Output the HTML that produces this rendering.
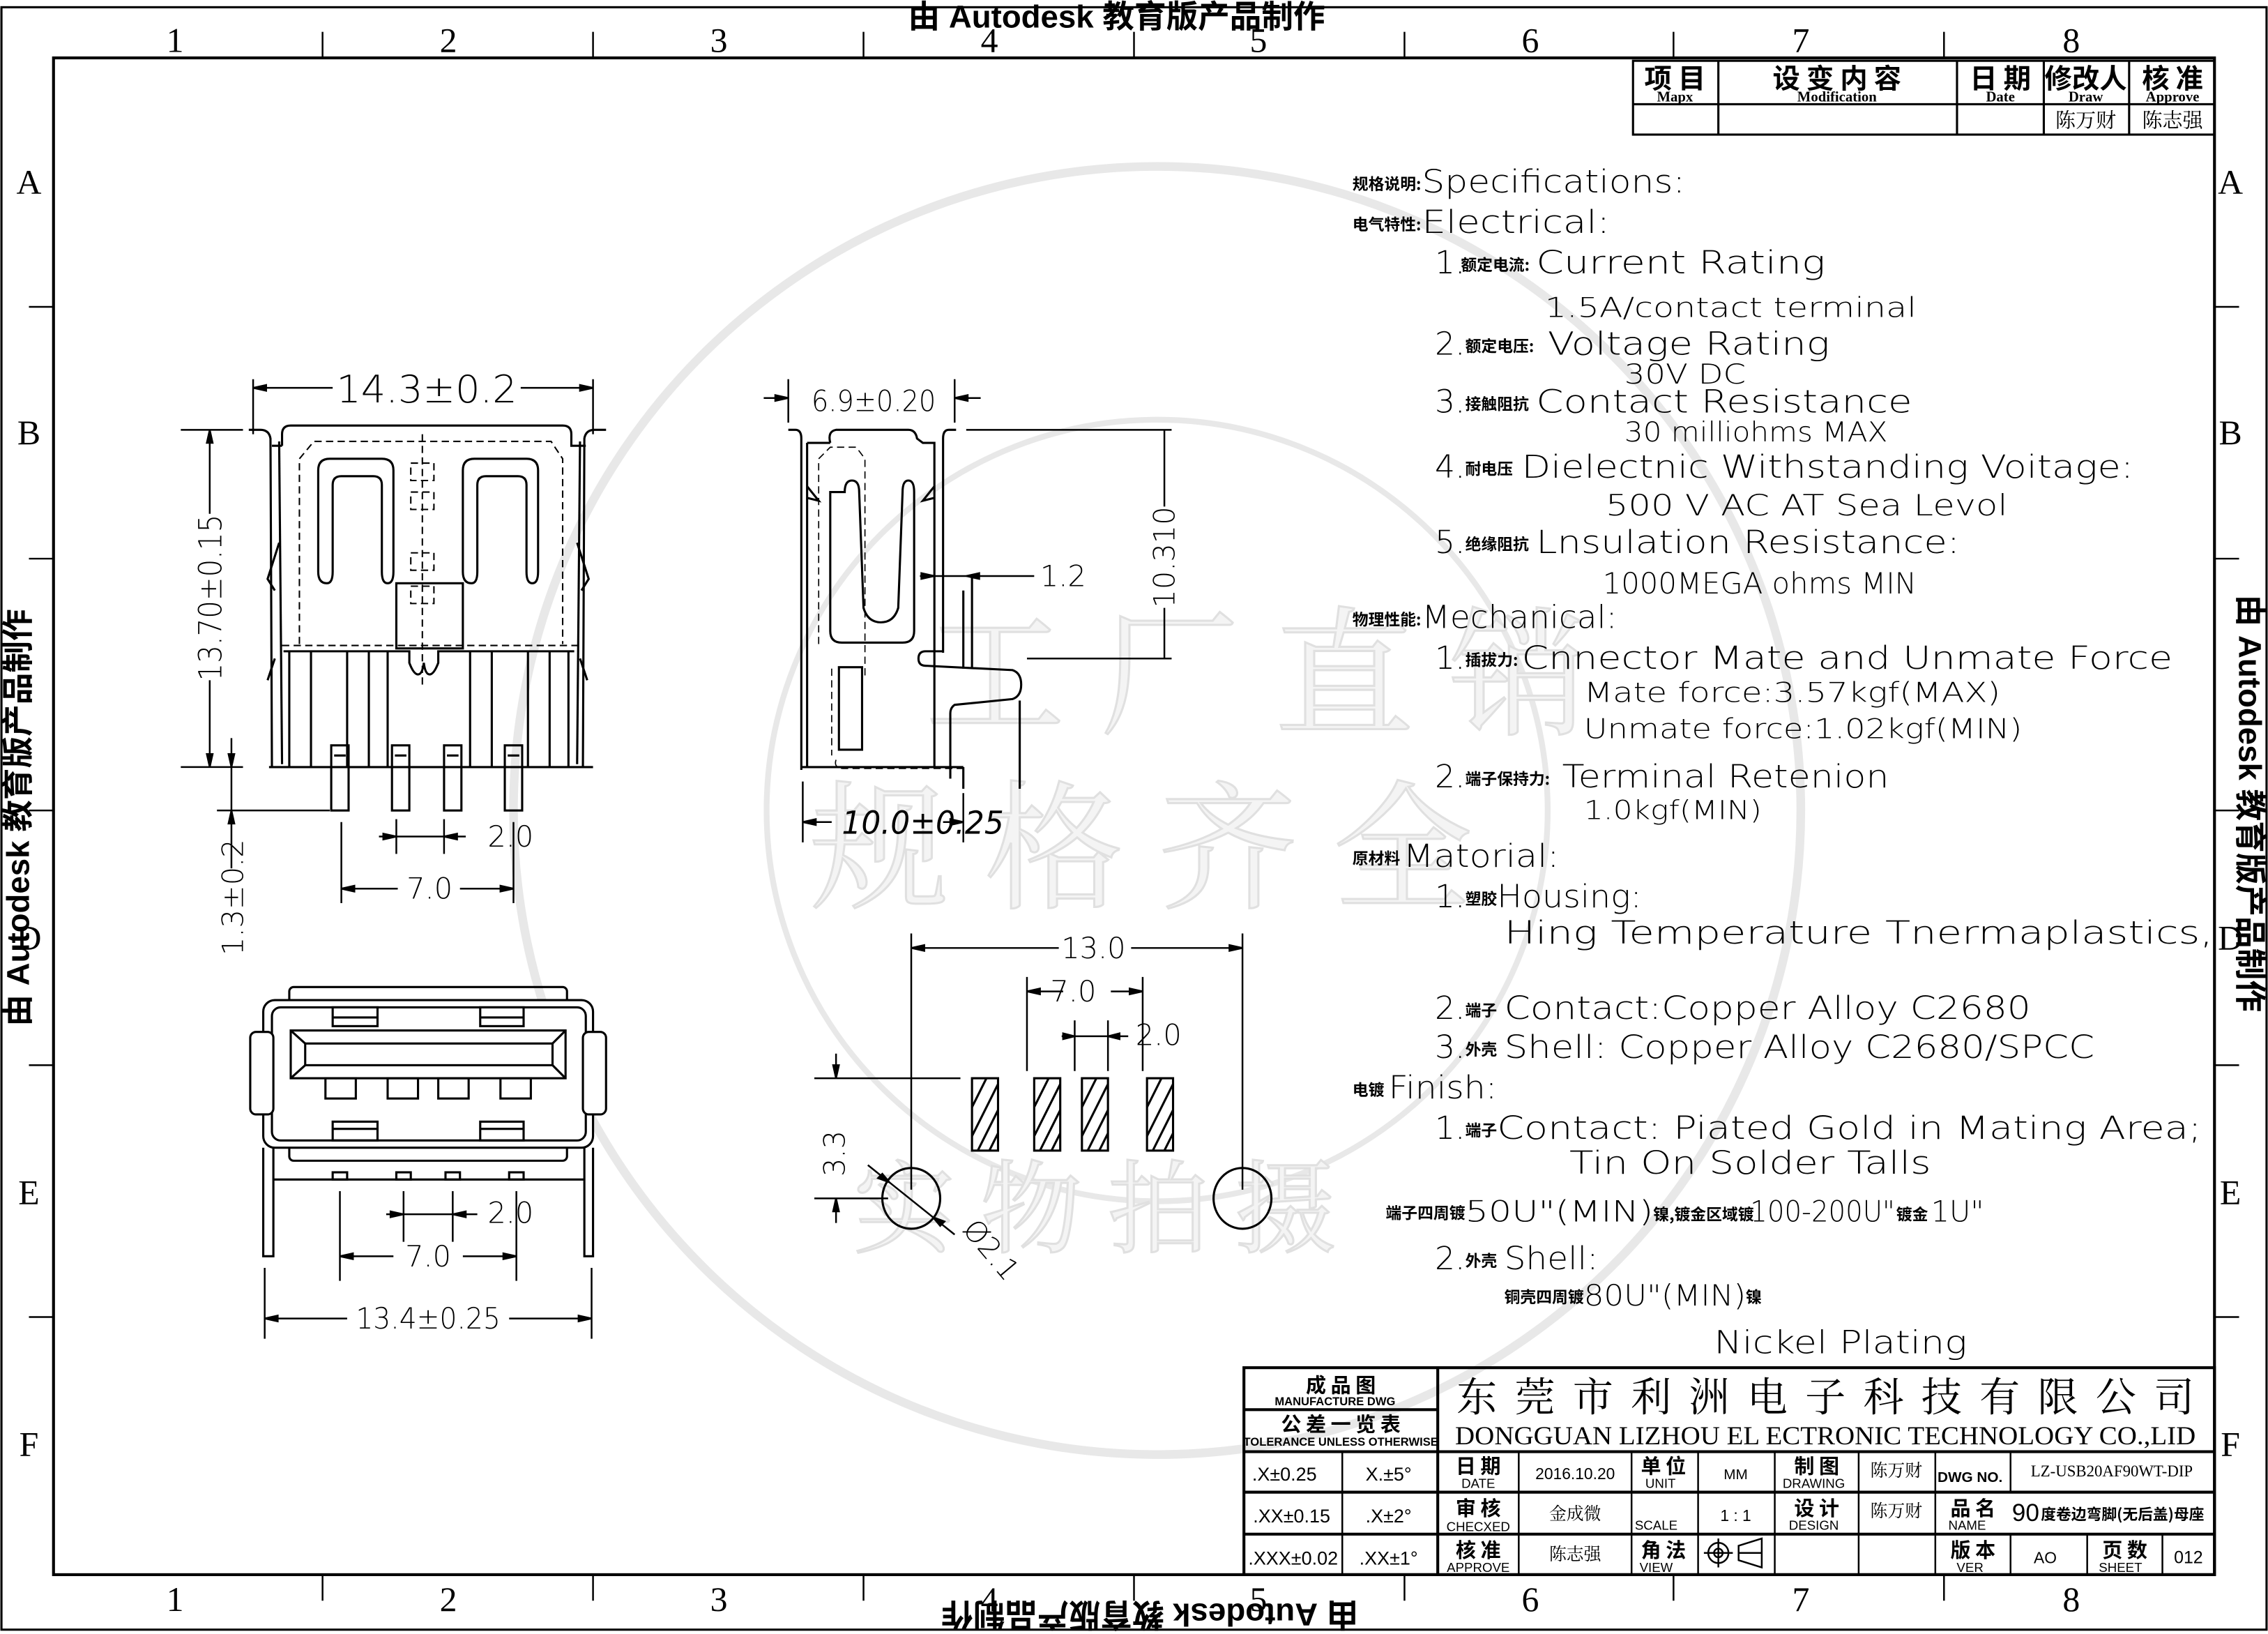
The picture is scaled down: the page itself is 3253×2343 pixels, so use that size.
<!DOCTYPE html>
<html><head><meta charset="utf-8"><style>
html,body{margin:0;padding:0;background:#fff;}
svg{display:block;}
text{font-family:"Liberation Sans","Noto Sans CJK SC",sans-serif;}
.cn{font-family:"Noto Sans CJK SC","WenQuanYi Zen Hei",sans-serif;font-weight:bold;}
.cnl{font-family:"Noto Serif CJK SC","Noto Sans CJK SC",serif;}
.sr{font-family:"Liberation Serif","Noto Serif CJK SC",serif;}
.sp{font-family:"DejaVu Sans","Liberation Sans",sans-serif;font-weight:200;}
</style></head><body>
<svg width="3253" height="2343" viewBox="0 0 1568 1129" preserveAspectRatio="none" xmlns="http://www.w3.org/2000/svg">
<rect width="1568" height="1129" fill="#fff"/>
<!-- watermark -->
<g fill="none" stroke="#e8e8e8" stroke-width="6">
<circle cx="800" cy="560" r="445"/>
<circle cx="800" cy="560" r="270" stroke-width="4"/>
</g>
<g fill="#f4f4f4" stroke="#e0e0e0" stroke-width="1.5">
<text x="640" y="500" class="cnl" font-size="96">工 厂 直 销</text>
<text x="560" y="620" class="cnl" font-size="96">规 格 齐 全</text>
<text x="590" y="860" class="cnl" font-size="70">实 物 拍 摄</text>
</g>
<!-- outer frame -->
<rect x="1" y="5" width="1566" height="1121" fill="none" stroke="#000" stroke-width="1.5"/>
<rect x="37" y="40" width="1494" height="1048" fill="none" stroke="#000" stroke-width="2"/>
<g stroke="#000" stroke-width="1.2">
<line x1="223" y1="22" x2="223" y2="40"/><line x1="410" y1="22" x2="410" y2="40"/><line x1="597" y1="22" x2="597" y2="40"/><line x1="784" y1="22" x2="784" y2="40"/><line x1="971" y1="22" x2="971" y2="40"/><line x1="1157" y1="22" x2="1157" y2="40"/><line x1="1344" y1="22" x2="1344" y2="40"/>
<line x1="223" y1="1088" x2="223" y2="1106"/><line x1="410" y1="1088" x2="410" y2="1106"/><line x1="597" y1="1088" x2="597" y2="1106"/><line x1="784" y1="1088" x2="784" y2="1106"/><line x1="971" y1="1088" x2="971" y2="1106"/><line x1="1157" y1="1088" x2="1157" y2="1106"/><line x1="1344" y1="1088" x2="1344" y2="1106"/>
<line x1="20" y1="212" x2="37" y2="212"/><line x1="20" y1="386" x2="37" y2="386"/><line x1="20" y1="560" x2="37" y2="560"/><line x1="20" y1="736" x2="37" y2="736"/><line x1="20" y1="910" x2="37" y2="910"/>
<line x1="1531" y1="212" x2="1548" y2="212"/><line x1="1531" y1="386" x2="1548" y2="386"/><line x1="1531" y1="560" x2="1548" y2="560"/><line x1="1531" y1="736" x2="1548" y2="736"/><line x1="1531" y1="910" x2="1548" y2="910"/>
</g>
<g class="sr" font-size="24" text-anchor="middle" fill="#000">
<text x="121" y="36" class="sr">1</text><text x="310" y="36" class="sr">2</text><text x="497" y="36" class="sr">3</text><text x="684" y="36" class="sr">4</text><text x="870" y="36" class="sr">5</text><text x="1058" y="36" class="sr">6</text><text x="1245" y="36" class="sr">7</text><text x="1432" y="36" class="sr">8</text>
<text x="121" y="1113" class="sr">1</text><text x="310" y="1113" class="sr">2</text><text x="497" y="1113" class="sr">3</text><text x="684" y="1113" class="sr">4</text><text x="870" y="1113" class="sr">5</text><text x="1058" y="1113" class="sr">6</text><text x="1245" y="1113" class="sr">7</text><text x="1432" y="1113" class="sr">8</text>
<text x="20" y="134" class="sr">A</text><text x="20" y="307" class="sr">B</text><text x="20" y="656" class="sr">D</text><text x="20" y="832" class="sr">E</text><text x="20" y="1006" class="sr">F</text>
<text x="1542" y="134" class="sr">A</text><text x="1542" y="307" class="sr">B</text><text x="1542" y="656" class="sr">D</text><text x="1542" y="832" class="sr">E</text><text x="1542" y="1006" class="sr">F</text>
</g>
<!-- autodesk stamps -->
<g font-size="22" font-weight="bold" fill="#000" text-anchor="middle">
<text x="772" y="19">由 Autodesk 教育版产品制作</text>
<text x="0" y="0" transform="translate(795 1108) rotate(180)">由 Autodesk 教育版产品制作</text>
<text x="0" y="0" transform="translate(20 565) rotate(-90)">由 Autodesk 教育版产品制作</text>
<text x="0" y="0" transform="translate(1548 555) rotate(90)">由 Autodesk 教育版产品制作</text>
</g>
<!-- revision table -->
<g stroke="#000" stroke-width="1.5" fill="none">
<rect x="1129" y="42" width="402" height="51"/>
<line x1="1129" y1="72" x2="1531" y2="72"/>
<line x1="1188" y1="42" x2="1188" y2="93"/><line x1="1353" y1="42" x2="1353" y2="93"/><line x1="1413" y1="42" x2="1413" y2="93"/><line x1="1472" y1="42" x2="1472" y2="93"/>
</g>
<g text-anchor="middle" fill="#000">
<text x="1158" y="61" class="cn" font-size="19">项 目</text><text x="1158" y="70" font-size="10" font-weight="bold" class="sr">Mapx</text>
<text x="1270" y="61" class="cn" font-size="19">设 变 内 容</text><text x="1270" y="70" font-size="10" font-weight="bold" class="sr">Modification</text>
<text x="1383" y="61" class="cn" font-size="19">日 期</text><text x="1383" y="70" font-size="10" font-weight="bold" class="sr">Date</text>
<text x="1442" y="61" class="cn" font-size="19">修改人</text><text x="1442" y="70" font-size="10" font-weight="bold" class="sr">Draw</text>
<text x="1502" y="61" class="cn" font-size="19">核 准</text><text x="1502" y="70" font-size="10" font-weight="bold" class="sr">Approve</text>
<text x="1442" y="88" class="cnl" font-size="14">陈万财</text><text x="1502" y="88" class="cnl" font-size="14">陈志强</text>
</g>
<!-- specs -->
<g fill="#000" font-size="22" class="sp">
<g class="cn" font-size="11">
<text x="935" y="131" class="cn">规格说明:</text>
<text x="935" y="159" class="cn">电气特性:</text>
<text x="1010" y="187" class="cn">额定电流:</text>
<text x="1013" y="243" class="cn">额定电压:</text>
<text x="1013" y="283" class="cn">接触阻抗</text>
<text x="1013" y="328" class="cn">耐电压</text>
<text x="1013" y="380" class="cn">绝缘阻抗</text>
<text x="935" y="432" class="cn">物理性能:</text>
<text x="1013" y="460" class="cn">插拔力:</text>
<text x="1013" y="542" class="cn">端子保持力:</text>
<text x="935" y="597" class="cn">原材料</text>
<text x="1013" y="625" class="cn">塑胶</text>
<text x="1013" y="702" class="cn">端子</text>
<text x="1013" y="729" class="cn">外壳</text>
<text x="935" y="757" class="cn">电镀</text>
<text x="1013" y="785" class="cn">端子</text>
<text x="958" y="842" class="cn">端子四周镀</text>
<text x="1013" y="875" class="cn">外壳</text>
<text x="1040" y="900" class="cn">铜壳四周镀</text>
</g>
<text x="983" y="133" class="sp" textLength="182" lengthAdjust="spacingAndGlyphs">Specifications:</text>
<text x="983" y="161" class="sp" textLength="130" lengthAdjust="spacingAndGlyphs">Electrical:</text>
<text x="992" y="189" class="sp">1.</text><text x="1062" y="189" class="sp" textLength="200" lengthAdjust="spacingAndGlyphs">Current Rating</text>
<text x="1068" y="219" class="sp" font-size="19" textLength="257" lengthAdjust="spacingAndGlyphs">1.5A/contact terminal</text>
<text x="992" y="245" class="sp">2.</text><text x="1070" y="245" class="sp" textLength="195" lengthAdjust="spacingAndGlyphs">Voltage Rating</text>
<text x="1123" y="265" class="sp" font-size="19" textLength="84" lengthAdjust="spacingAndGlyphs">30V DC</text>
<text x="992" y="285" class="sp">3.</text><text x="1062" y="285" class="sp" textLength="260" lengthAdjust="spacingAndGlyphs">Contact Resistance</text>
<text x="1123" y="305" class="sp" font-size="19" textLength="182" lengthAdjust="spacingAndGlyphs">30 milliohms MAX</text>
<text x="992" y="330" class="sp">4.</text><text x="1052" y="330" class="sp" textLength="423" lengthAdjust="spacingAndGlyphs">Dielectnic Withstanding Voitage:</text>
<text x="1110" y="356" class="sp" font-size="20" textLength="278" lengthAdjust="spacingAndGlyphs">500 V AC AT Sea Levol</text>
<text x="992" y="382" class="sp">5.</text><text x="1062" y="382" class="sp" textLength="293" lengthAdjust="spacingAndGlyphs">Lnsulation Resistance:</text>
<text x="1108" y="410" class="sp" font-size="20" textLength="217" lengthAdjust="spacingAndGlyphs">1000MEGA ohms MIN</text>
<text x="983" y="434" class="sp" textLength="135" lengthAdjust="spacingAndGlyphs">Mechanical:</text>
<text x="992" y="462" class="sp">1.</text><text x="1052" y="462" class="sp" textLength="450" lengthAdjust="spacingAndGlyphs">Cnnector Mate and Unmate Force</text>
<text x="1095" y="485" class="sp" font-size="19" textLength="288" lengthAdjust="spacingAndGlyphs">Mate force:3.57kgf(MAX)</text>
<text x="1095" y="510" class="sp" font-size="19" textLength="303" lengthAdjust="spacingAndGlyphs">Unmate force:1.02kgf(MIN)</text>
<text x="992" y="544" class="sp">2.</text><text x="1080" y="544" class="sp" textLength="226" lengthAdjust="spacingAndGlyphs">Terminal Retenion</text>
<text x="1095" y="566" class="sp" font-size="18" textLength="123" lengthAdjust="spacingAndGlyphs">1.0kgf(MIN)</text>
<text x="970" y="599" class="sp" textLength="108" lengthAdjust="spacingAndGlyphs">Matorial:</text>
<text x="992" y="627" class="sp">1.</text><text x="1035" y="627" class="sp" textLength="100" lengthAdjust="spacingAndGlyphs">Housing:</text>
<text x="1040" y="652" class="sp" textLength="490" lengthAdjust="spacingAndGlyphs">Hing Temperature  Tnermaplastics,</text>
<text x="992" y="704" class="sp">2.</text><text x="1040" y="704" class="sp" textLength="364" lengthAdjust="spacingAndGlyphs">Contact:Copper Alloy C2680</text>
<text x="992" y="731" class="sp">3.</text><text x="1040" y="731" class="sp" textLength="408" lengthAdjust="spacingAndGlyphs">Shell: Copper Alloy C2680/SPCC</text>
<text x="960" y="759" class="sp" textLength="75" lengthAdjust="spacingAndGlyphs">Finish:</text>
<text x="992" y="787" class="sp">1.</text><text x="1035" y="787" class="sp" textLength="487" lengthAdjust="spacingAndGlyphs">Contact: Piated Gold in Mating Area;</text>
<text x="1085" y="811" class="sp" textLength="250" lengthAdjust="spacingAndGlyphs">Tin On Solder Talls</text>
<text x="1013" y="844" class="sp" font-size="20" textLength="130" lengthAdjust="spacingAndGlyphs">50U"(MIN)</text>
<text x="1143" y="843" class="cn" font-size="11">镍,镀金区域镀</text>
<text x="1210" y="844" class="sp" font-size="20" textLength="100" lengthAdjust="spacingAndGlyphs">100-200U"</text>
<text x="1311" y="843" class="cn" font-size="11">镀金</text>
<text x="1335" y="844" class="sp" font-size="20">1U"</text>
<text x="992" y="877" class="sp">2.</text><text x="1040" y="877" class="sp" textLength="65" lengthAdjust="spacingAndGlyphs">Shell:</text>
<text x="1095" y="902" class="sp" font-size="20" textLength="112" lengthAdjust="spacingAndGlyphs">80U"(MIN)</text>
<text x="1207" y="900" class="cn" font-size="11">镍</text>
<text x="1185" y="935" class="sp" textLength="175" lengthAdjust="spacingAndGlyphs">Nickel Plating</text>
</g>

<!-- FRONT VIEW -->
<g stroke="#000" stroke-width="1.5" fill="none">
<path d="M172 297 h8 q6 0 7 6 l1 227 M419 297 h-8 q-6 0 -7 6 l-1 227"/>
<path d="M195 308 v-8 q0 -6 6 -6 h188 q6 0 6 6 v8 h10"/>
<path d="M188 308 h7"/>
<line x1="186" y1="530" x2="410" y2="530"/>
<line x1="193" y1="305" x2="195" y2="528"/><line x1="401" y1="305" x2="399" y2="528"/>
<path d="M193 375 l-8 25 5 8 M399 375 l8 25 -5 8"/>
<path d="M185 470 l5 -15 M406 470 l-5 -15"/>
<path d="M220 395 v-70 q0 -8 8 -8 h36 q8 0 8 8 v70 q0 8 -4 8 q-4 0 -4 -8 v-60 q0 -6 -6 -6 h-22 q-6 0 -6 6 v60 q0 8 -4 8 q-6 0 -6 -8z"/>
<path d="M320 395 v-70 q0 -8 8 -8 h36 q8 0 8 8 v70 q0 8 -4 8 q-4 0 -4 -8 v-60 q0 -6 -6 -6 h-22 q-6 0 -6 6 v60 q0 8 -4 8 q-6 0 -6 -8z"/>
<rect x="274" y="403" width="46" height="45"/>
<path d="M196 450 h87 v8 q3 8 6 8 q3 0 4 -8 q1 8 4 8 q3 0 6 -8 v-8 h94"/>
<line x1="200" y1="450" x2="200" y2="530"/><line x1="215" y1="450" x2="215" y2="530"/><line x1="240" y1="450" x2="240" y2="530"/><line x1="255" y1="450" x2="255" y2="530"/><line x1="268" y1="450" x2="268" y2="530"/>
<line x1="325" y1="450" x2="325" y2="530"/><line x1="340" y1="450" x2="340" y2="530"/><line x1="365" y1="450" x2="365" y2="530"/><line x1="380" y1="450" x2="380" y2="530"/><line x1="393" y1="450" x2="393" y2="530"/>
<rect x="229" y="515" width="12" height="45"/><rect x="271" y="515" width="12" height="45"/><rect x="307" y="515" width="12" height="45"/><rect x="349" y="515" width="12" height="45"/>
<line x1="231" y1="522" x2="239" y2="522"/><line x1="273" y1="522" x2="281" y2="522"/><line x1="309" y1="522" x2="317" y2="522"/><line x1="351" y1="522" x2="359" y2="522"/>
</g>
<g stroke="#000" stroke-width="1" fill="none" stroke-dasharray="5 3">
<path d="M207 445 v-128 l10 -12 h164 l8 12 v128"/>
<line x1="195" y1="446" x2="403" y2="446"/>
<line x1="292" y1="300" x2="292" y2="475"/>
<rect x="284" y="320" width="16" height="12"/><rect x="284" y="340" width="16" height="12"/><rect x="284" y="382" width="16" height="12"/><rect x="284" y="405" width="16" height="12"/>
</g>
<!-- front view dims -->
<g stroke="#000" stroke-width="1.2" fill="#000">
<line x1="175" y1="262" x2="175" y2="300"/><line x1="410" y1="262" x2="410" y2="300"/>
<line x1="175" y1="268" x2="230" y2="268"/><line x1="360" y1="268" x2="410" y2="268"/>
<path d="M175 268 l9 -2 v4z M410 268 l-9 -2 v4z"/>
<line x1="125" y1="297" x2="168" y2="297"/><line x1="125" y1="530" x2="168" y2="530"/>
<line x1="145" y1="297" x2="145" y2="355"/><line x1="145" y1="470" x2="145" y2="530"/>
<path d="M145 297 l-2 9 h4z M145 530 l-2 -9 h4z"/>
<line x1="160" y1="510" x2="160" y2="600"/>
<path d="M160 530 l-2 -9 h4z M160 560 l-2 9 h4z"/>
<line x1="150" y1="560" x2="228" y2="560"/>
<line x1="236" y1="568" x2="236" y2="624"/><line x1="355" y1="568" x2="355" y2="624"/>
<line x1="274" y1="566" x2="274" y2="590"/><line x1="307" y1="566" x2="307" y2="590"/>
<line x1="262" y1="578" x2="322" y2="578"/>
<path d="M274 578 l-9 -2 v4z M307 578 l9 -2 v4z"/>
<line x1="236" y1="614" x2="275" y2="614"/><line x1="318" y1="614" x2="355" y2="614"/>
<path d="M236 614 l9 -2 v4z M355 614 l-9 -2 v4z"/>
</g>
<g fill="#000" font-size="26" text-anchor="middle" class="sp">
<text x="295" y="278" class="sp" textLength="125" lengthAdjust="spacingAndGlyphs">14.3±0.2</text>
<text x="0" y="0" class="sp" transform="translate(153 413) rotate(-90)" font-size="22" textLength="115" lengthAdjust="spacingAndGlyphs">13.70±0.15</text>
<text x="0" y="0" class="sp" transform="translate(168 620) rotate(-90)" font-size="20">1.3±0.2</text>
<text x="353" y="585" class="sp" font-size="20">2.0</text>
<text x="297" y="621" class="sp" font-size="20">7.0</text>
</g>

<!-- SIDE VIEW -->
<g stroke="#000" stroke-width="1.5" fill="none">
<path d="M545 297 h5 q4 0 4 6 v229"/>
<path d="M558 306 v224"/>
<path d="M574 306 q-2 -8 4 -9 h50 q5 0 6 6 l4 3 h8 v224"/>
<path d="M574 306 h-16"/>
<path d="M661 297 h-5 q-4 0 -4 6 v148"/>
<path d="M558 336 l8 10 -8 -2 M646 336 l-8 10 8 -2"/>
<path d="M574 340 v96 q0 8 8 8 h42 q8 0 8 -8 v-96 q0 -8 -4 -8 q-4 0 -4 8 l-3 80 q-3 10 -12 10 q-9 0 -12 -10 l-3 -80 q0 -8 -5 -8 q-5 0 -5 8z"/>
<path d="M652 450 h-12 q-5 0 -5 5 q0 5 5 5 l60 3 q6 2 6 10 q0 8 -6 10 l-40 4 q-3 2 -3 6 v45"/>
<line x1="666" y1="408" x2="666" y2="462"/><line x1="672" y1="398" x2="672" y2="462"/>
<rect x="580" y="461" width="16" height="57"/>
<line x1="554" y1="530" x2="666" y2="530"/>
<line x1="666" y1="530" x2="666" y2="545"/><line x1="705" y1="484" x2="705" y2="545"/>
</g>
<g stroke="#000" stroke-width="0.8" fill="none" stroke-dasharray="5 3">
<path d="M566 445 v-128 l8 -8 h18 l6 8 v150"/>
<path d="M578 525 q-2 6 6 6 h82"/>
<path d="M575 462 v60"/>
</g>
<g stroke="#000" stroke-width="1.2" fill="#000">
<line x1="545" y1="262" x2="545" y2="292"/><line x1="660" y1="262" x2="660" y2="292"/>
<line x1="528" y1="275" x2="545" y2="275"/><line x1="660" y1="275" x2="678" y2="275"/>
<path d="M545 275 l-9 -2 v4z M660 275 l9 -2 v4z"/>
<line x1="668" y1="297" x2="810" y2="297"/><line x1="710" y1="455" x2="810" y2="455"/>
<line x1="805" y1="297" x2="805" y2="350"/><line x1="805" y1="420" x2="805" y2="455"/>
<line x1="636" y1="398" x2="715" y2="398"/>
<path d="M646 398 l-9 -2 v4z M668 398 l9 -2 v4z"/>
<line x1="555" y1="540" x2="555" y2="582"/><line x1="666" y1="548" x2="666" y2="582"/>
<line x1="555" y1="568" x2="575" y2="568"/><line x1="652" y1="568" x2="666" y2="568"/>
<path d="M555 568 l9 -2 v4z M666 568 l-9 -2 v4z"/>
</g>
<g fill="#000" text-anchor="middle" class="sp">
<text x="604" y="284" class="sp" font-size="20" textLength="86" lengthAdjust="spacingAndGlyphs">6.9±0.20</text>
<text x="0" y="0" class="sp" transform="translate(812 385) rotate(-90)" font-size="20">10.310</text>
<text x="735" y="405" class="sp" font-size="20">1.2</text>
<text x="638" y="576" class="sp" font-size="22" font-style="italic" textLength="112" lengthAdjust="spacingAndGlyphs">10.0±0.25</text>
</g>

<!-- FRONT FACE VIEW -->
<g stroke="#000" stroke-width="1.5" fill="none">
<rect x="200" y="682" width="192" height="120" rx="3"/>
<rect x="182" y="691" width="228" height="102" rx="8" fill="#fff"/>
<rect x="188" y="696" width="217" height="92" rx="6"/>
<rect x="173" y="713" width="16" height="57" rx="4" fill="#fff"/>
<rect x="403" y="713" width="16" height="57" rx="4" fill="#fff"/>
<rect x="201" y="712" width="190" height="33"/>
<rect x="211" y="721" width="171" height="15"/>
<path d="M201 712 l10 9 M391 712 l-9 9 M201 745 l10 -9 M391 745 l-9 -9"/>
<rect x="225" y="745" width="21" height="14"/><rect x="268" y="745" width="21" height="14"/><rect x="303" y="745" width="21" height="14"/><rect x="346" y="745" width="21" height="14"/>
<rect x="230" y="696" width="31" height="13"/><line x1="230" y1="703" x2="261" y2="703"/>
<rect x="332" y="696" width="30" height="13"/><line x1="332" y1="703" x2="362" y2="703"/>
<rect x="230" y="775" width="31" height="13"/><line x1="230" y1="780" x2="261" y2="780"/>
<rect x="332" y="775" width="30" height="13"/><line x1="332" y1="780" x2="362" y2="780"/>
<path d="M182 793 v75 h7 v-75 M404 793 v75 h6 v-75"/>
<line x1="189" y1="815" x2="404" y2="815"/>
<rect x="230" y="810" width="10" height="5"/><rect x="274" y="810" width="10" height="5"/><rect x="308" y="810" width="10" height="5"/><rect x="352" y="810" width="10" height="5"/>
</g>
<g stroke="#000" stroke-width="1.2" fill="#000">
<line x1="279" y1="823" x2="279" y2="858"/><line x1="313" y1="823" x2="313" y2="858"/>
<line x1="267" y1="839" x2="330" y2="839"/>
<path d="M279 839 l-9 -2 v4z M313 839 l9 -2 v4z"/>
<line x1="235" y1="823" x2="235" y2="885"/><line x1="357" y1="823" x2="357" y2="885"/>
<line x1="235" y1="868" x2="272" y2="868"/><line x1="320" y1="868" x2="357" y2="868"/>
<path d="M235 868 l9 -2 v4z M357 868 l-9 -2 v4z"/>
<line x1="183" y1="876" x2="183" y2="925"/><line x1="409" y1="876" x2="409" y2="925"/>
<line x1="183" y1="911" x2="240" y2="911"/><line x1="352" y1="911" x2="409" y2="911"/>
<path d="M183 911 l9 -2 v4z M409 911 l-9 -2 v4z"/>
</g>
<g fill="#000" text-anchor="middle" font-size="20" class="sp">
<text x="353" y="845" class="sp">2.0</text>
<text x="296" y="875" class="sp">7.0</text>
<text x="296" y="918" class="sp" textLength="100" lengthAdjust="spacingAndGlyphs">13.4±0.25</text>
</g>

<!-- FOOTPRINT -->
<g stroke="#000" stroke-width="1.5" fill="none">
<rect x="672" y="745" width="18" height="50"/><rect x="715" y="745" width="18" height="50"/><rect x="748" y="745" width="18" height="50"/><rect x="793" y="745" width="18" height="50"/>
<path d="M672 765 l10 -20 M672 785 l18 -36 M676 795 l14 -28 M684 795 l6 -12"/>
<path d="M715 765 l10 -20 M715 785 l18 -36 M719 795 l14 -28 M727 795 l6 -12"/>
<path d="M748 765 l10 -20 M748 785 l18 -36 M752 795 l14 -28 M760 795 l6 -12"/>
<path d="M793 765 l10 -20 M793 785 l18 -36 M797 795 l14 -28 M805 795 l6 -12"/>
<ellipse cx="630" cy="828" rx="20" ry="21"/>
<ellipse cx="859" cy="828" rx="20" ry="21"/>
</g>
<g stroke="#000" stroke-width="1.2" fill="#000">
<line x1="630" y1="645" x2="630" y2="822"/><line x1="859" y1="645" x2="859" y2="822"/>
<line x1="630" y1="655" x2="732" y2="655"/><line x1="782" y1="655" x2="859" y2="655"/>
<path d="M630 655 l9 -2 v4z M859 655 l-9 -2 v4z"/>
<line x1="710" y1="675" x2="710" y2="740"/><line x1="790" y1="675" x2="790" y2="740"/>
<line x1="710" y1="685" x2="735" y2="685"/><line x1="768" y1="685" x2="790" y2="685"/>
<path d="M710 685 l9 -2 v4z M790 685 l-9 -2 v4z"/>
<line x1="743" y1="705" x2="743" y2="740"/><line x1="766" y1="705" x2="766" y2="740"/>
<line x1="734" y1="716" x2="780" y2="716"/>
<path d="M743 716 l-8 -2 v4z M766 716 l8 -2 v4z"/>
<line x1="563" y1="745" x2="664" y2="745"/><line x1="563" y1="828" x2="614" y2="828"/>
<line x1="578" y1="728" x2="578" y2="745"/><line x1="578" y1="828" x2="578" y2="845"/>
<path d="M578 745 l-2 -9 h4z M578 828 l-2 9 h4z"/>
<line x1="600" y1="805" x2="660" y2="853"/>
<path d="M615 817 l-8 -3 3 -3z M645 841 l8 3 -3 3z"/>
</g>
<g fill="#000" font-size="20" text-anchor="middle" class="sp">
<text x="756" y="662" class="sp">13.0</text>
<text x="742" y="692" class="sp">7.0</text>
<text x="801" y="722" class="sp">2.0</text>
<text x="0" y="0" class="sp" transform="translate(584 797) rotate(-90)">3.3</text>
<text x="0" y="0" class="sp" transform="translate(680 868) rotate(50)">Ø2.1</text>
</g>

<!-- TITLE BLOCK -->
<g stroke="#000" stroke-width="2" fill="none">
<rect x="860" y="945" width="671" height="143"/>
<line x1="860" y1="1003" x2="1531" y2="1003"/>
<line x1="860" y1="1031" x2="1531" y2="1031"/>
<line x1="860" y1="1060" x2="1531" y2="1060"/>
<line x1="994" y1="945" x2="994" y2="1088"/>
<line x1="860" y1="974" x2="994" y2="974"/>
</g>
<g stroke="#000" stroke-width="1.2">
<line x1="928" y1="1003" x2="928" y2="1088"/>
<line x1="1050" y1="1003" x2="1050" y2="1088"/>
<line x1="1128" y1="1003" x2="1128" y2="1088"/>
<line x1="1174" y1="1003" x2="1174" y2="1088"/>
<line x1="1227" y1="1003" x2="1227" y2="1088"/>
<line x1="1285" y1="1003" x2="1285" y2="1088"/>
<line x1="1338" y1="1003" x2="1338" y2="1088"/>
<line x1="1390" y1="1003" x2="1390" y2="1031"/>
<line x1="1390" y1="1060" x2="1390" y2="1088"/>
<line x1="1443" y1="1060" x2="1443" y2="1088"/>
<line x1="1495" y1="1060" x2="1495" y2="1088"/>
</g>
<g fill="#000" text-anchor="middle">
<text x="927" y="962" class="cn" font-size="14">成 品 图</text>
<text x="923" y="971" font-size="8" font-weight="bold">MANUFACTURE DWG</text>
<text x="927" y="989" class="cn" font-size="14">公 差 一 览 表</text>
<text x="927" y="999" font-size="8" font-weight="bold">TOLERANCE UNLESS OTHERWISE</text>
<text x="1262" y="975" class="cnl" font-size="28" textLength="510" lengthAdjust="spacing">东莞市利洲电子科技有限公司</text>
<text x="1262" y="998" class="sr" font-size="18" textLength="512" lengthAdjust="spacingAndGlyphs">DONGGUAN LIZHOU EL ECTRONIC TECHNOLOGY CO.,LID</text>
<g font-size="13">
<text x="888" y="1023">.X±0.25</text><text x="960" y="1023">X.±5°</text>
<text x="893" y="1052">.XX±0.15</text><text x="960" y="1052">.X±2°</text>
<text x="894" y="1081">.XXX±0.02</text><text x="960" y="1081">.XX±1°</text>
<text x="1089" y="1022" font-size="11">2016.10.20</text>
<text x="1200" y="1022" font-size="10">MM</text>
<text x="1200" y="1051" font-size="11">1 : 1</text>
<text x="1414" y="1080" font-size="11">AO</text>
<text x="1513" y="1080" font-size="12">012</text>
</g>
<g class="cn" font-size="14">
<text x="1022" y="1018" class="cn">日 期</text><text x="1022" y="1047" class="cn">审 核</text><text x="1022" y="1076" class="cn">核 准</text>
<text x="1150" y="1018" class="cn">单 位</text><text x="1150" y="1076" class="cn">角 法</text>
<text x="1256" y="1018" class="cn">制 图</text><text x="1256" y="1047" class="cn">设 计</text>
<text x="1364" y="1047" class="cn">品 名</text><text x="1364" y="1076" class="cn">版 本</text>
<text x="1469" y="1076" class="cn">页 数</text>
</g>
<g font-size="9">
<text x="1022" y="1028">DATE</text><text x="1022" y="1058">CHECXED</text><text x="1022" y="1086">APPROVE</text>
<text x="1148" y="1028">UNIT</text><text x="1145" y="1057">SCALE</text><text x="1145" y="1086">VIEW</text>
<text x="1254" y="1028">DRAWING</text><text x="1254" y="1057">DESIGN</text>
<text x="1362" y="1024" font-size="10" font-weight="bold">DWG NO.</text>
<text x="1360" y="1057">NAME</text><text x="1362" y="1086">VER</text><text x="1466" y="1086">SHEET</text>
</g>
<g class="cnl" font-size="12">
<text x="1089" y="1050" class="cnl">金成微</text>
<text x="1089" y="1078" class="cnl">陈志强</text>
<text x="1311" y="1020" class="cnl">陈万财</text>
<text x="1311" y="1048" class="cnl">陈万财</text>
</g>
<text x="1460" y="1020" class="sr" font-size="11">LZ-USB20AF90WT-DIP</text>
<text x="1391" y="1051" text-anchor="start" font-size="17">90</text>
<text x="1411" y="1050" text-anchor="start" class="cn" font-size="10.5">度卷边弯脚(无后盖)母座</text>
</g>
<g stroke="#000" stroke-width="1.2" fill="none">
<circle cx="1188" cy="1073" r="7"/><circle cx="1188" cy="1073" r="3"/>
<line x1="1178" y1="1073" x2="1198" y2="1073"/><line x1="1188" y1="1063" x2="1188" y2="1083"/>
<path d="M1202 1068 l16 -5 v20 l-16 -5z M1202 1073 h16"/>
</g>
</svg>
</body></html>
